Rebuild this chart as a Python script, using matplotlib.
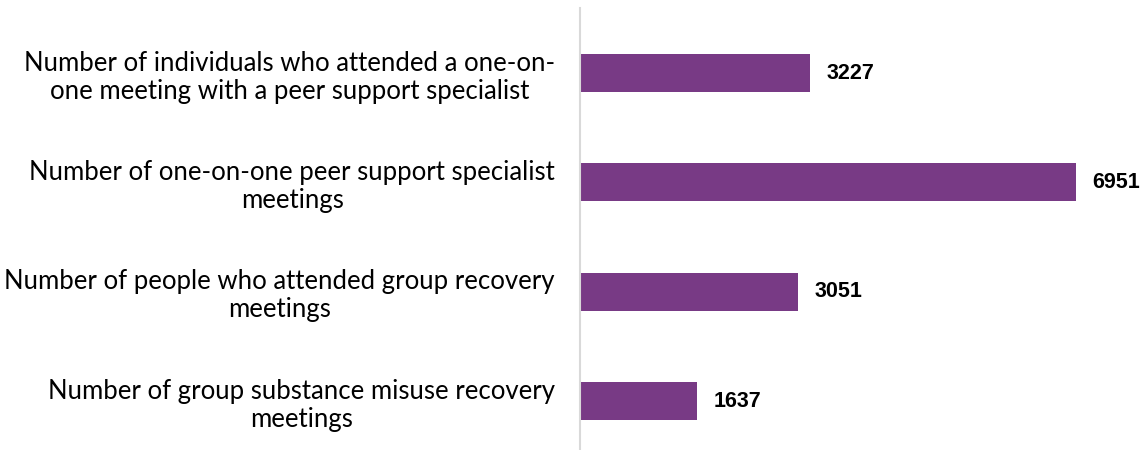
import matplotlib.pyplot as plt
import numpy as np

# categories top to bottom
categories = [
    "Number of individuals who attended a one-on-\none meeting with a peer support specialist",
    "Number of one-on-one peer support specialist\nmeetings",
    "Number of people who attended group recovery\nmeetings",
    "Number of group substance misuse recovery\nmeetings",
]
values = [3227, 6951, 3051, 1637]

bar_color = "#783A85"

fig = plt.figure(figsize=(11.47, 4.5), dpi=100)
W, H = 1147, 450
ax = fig.add_axes([580 / W, 0, (1147 - 580) / W, 442 / H])

y = np.arange(len(categories))
ax.barh(y, values, height=0.35, color=bar_color)

# bar labels
for yi, v in zip(y, values):
    ax.text(v + 230, yi, str(v), va="center", ha="left",
            fontsize=15.5, fontweight="bold", family="Liberation Sans")

ax.set_xlim(0, 567 / 0.07136)
ax.set_ylim(3.448, -0.5945)

ax.set_yticks(y)
ax.set_yticklabels(categories, fontsize=18.5, family="Lato",
                   multialignment="center", linespacing=1.15)
ax.tick_params(axis="y", length=0, pad=18)
ax.set_xticks([])

for s in ["top", "right", "bottom"]:
    ax.spines[s].set_visible(False)
ax.spines["left"].set_color("#D9D9D9")
ax.spines["left"].set_linewidth(1.5)

fig.savefig("out.png", dpi=100)
